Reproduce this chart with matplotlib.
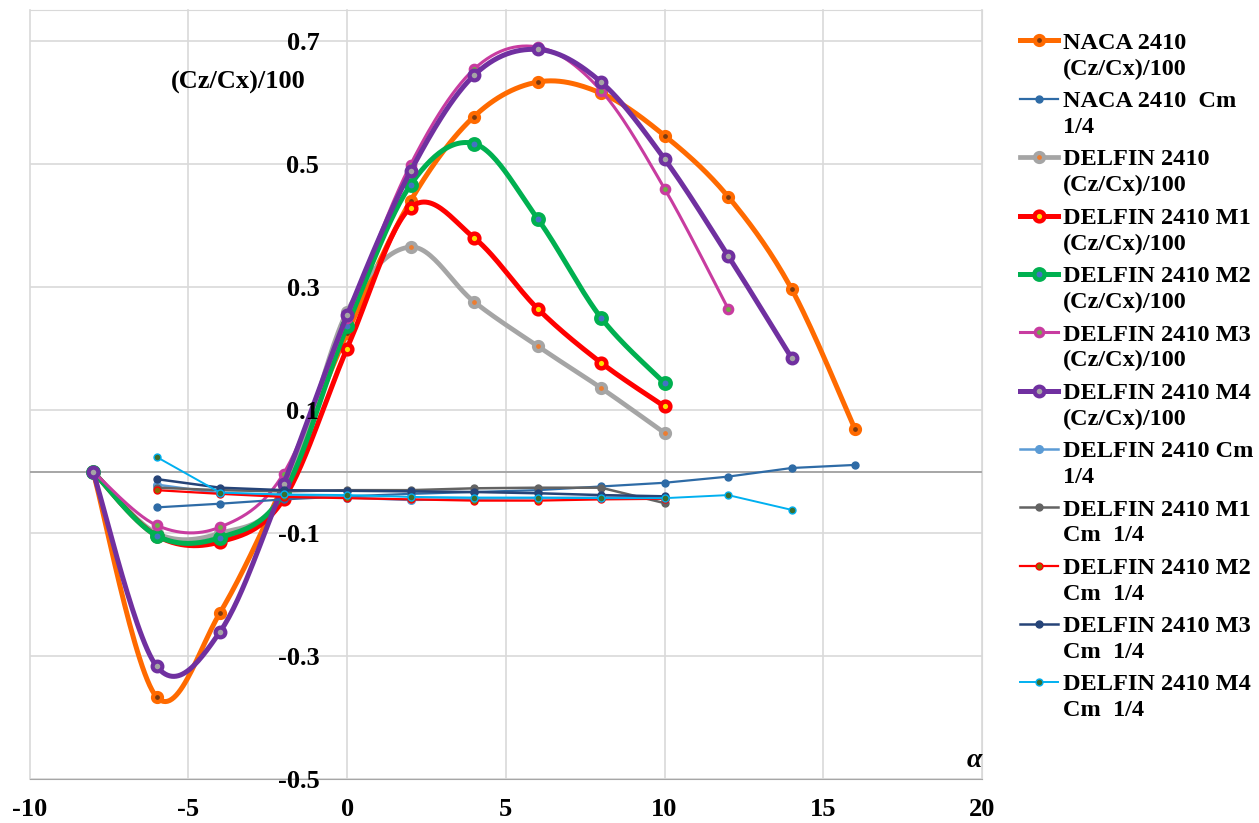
import numpy as np
import matplotlib
matplotlib.use('Agg')
import matplotlib.pyplot as plt
from matplotlib.legend_handler import HandlerLine2D

plt.rcParams['font.family'] = ['Liberation Serif', 'DejaVu Serif']
plt.rcParams['font.weight'] = 'bold'
plt.rcParams['axes.unicode_minus'] = False

# angle of attack
alpha_naca = [-8, -6, -4, -2, 0, 2, 4, 6, 8, 10, 12, 14, 16]
alpha_d = [-8, -6, -4, -2, 0, 2, 4, 6, 8, 10]
alpha_m3 = [-8, -6, -4, -2, 0, 2, 4, 6, 8, 10, 12]
alpha_m4 = [-8, -6, -4, -2, 0, 2, 4, 6, 8, 10, 12, 14]

# (Cz/Cx)/100
naca_czcx = [0, -0.366, -0.229, -0.02, 0.225, 0.44, 0.577, 0.633, 0.615, 0.546, 0.447, 0.297, 0.069]
delfin_czcx = [0, -0.10, -0.10, -0.035, 0.26, 0.365, 0.276, 0.204, 0.136, 0.063]
m1_czcx = [0, -0.104, -0.114, -0.045, 0.200, 0.429, 0.380, 0.265, 0.177, 0.106]
m2_czcx = [0, -0.104, -0.107, -0.035, 0.236, 0.466, 0.533, 0.411, 0.250, 0.144]
m3_czcx = [0, -0.087, -0.090, -0.003, 0.25, 0.499, 0.654, 0.690, 0.619, 0.460, 0.265]
m4_czcx = [0, -0.316, -0.260, -0.02, 0.254, 0.488, 0.644, 0.686, 0.633, 0.508, 0.351, 0.185]

# Cm 1/4
alpha_cm_naca = [-6, -4, -2, 0, 2, 4, 6, 8, 10, 12, 14, 16]
alpha_cm = [-6, -4, -2, 0, 2, 4, 6, 8, 10]
alpha_cm_m4 = [-6, -4, -2, 0, 2, 4, 6, 8, 10, 12, 14]
naca_cm = [-0.058, -0.052, -0.045, -0.040, -0.036, -0.033, -0.030, -0.024, -0.018, -0.008, 0.006, 0.011]
delfin_cm = [-0.021, -0.035, -0.038, -0.042, -0.046, -0.044, -0.043, -0.042, -0.042]
m1_cm = [-0.026, -0.030, -0.032, -0.030, -0.030, -0.027, -0.026, -0.026, -0.051]
m2_cm = [-0.030, -0.036, -0.041, -0.043, -0.045, -0.047, -0.047, -0.045, -0.044]
m3_cm = [-0.012, -0.026, -0.030, -0.031, -0.032, -0.033, -0.035, -0.038, -0.040]
m4_cm = [0.024, -0.034, -0.037, -0.038, -0.041, -0.042, -0.042, -0.043, -0.043, -0.038, -0.062]

x_ticks = [-10, -5, 0, 5, 10, 15, 20]
y_ticks = [-0.5, -0.3, -0.1, 0.1, 0.3, 0.5, 0.7]


def smooth(x, y, n=30):
    # excel-like smoothed line (catmull-rom bezier)
    p = np.column_stack([x, y]).astype(float)
    ext = np.vstack([p[0], p, p[-1]])
    t = np.linspace(0, 1, n)[:, None]
    out = []
    for i in range(len(p) - 1):
        p0, p1, p2, p3 = ext[i], ext[i + 1], ext[i + 2], ext[i + 3]
        c1 = p1 + (p2 - p0) / 6
        c2 = p2 - (p3 - p1) / 6
        seg = ((1 - t) ** 3) * p1 + 3 * ((1 - t) ** 2) * t * c1 + 3 * (1 - t) * t ** 2 * c2 + t ** 3 * p2
        out.append(seg if i == 0 else seg[1:])
    out = np.vstack(out)
    return out[:, 0], out[:, 1]


class TopHandler(HandlerLine2D):
    # align legend marker with first line of the label
    def create_artists(self, legend, orig_handle, xdescent, ydescent, width, height, fontsize, trans):
        arts = super().create_artists(legend, orig_handle, xdescent, ydescent, width, height, fontsize, trans)
        for a in arts:
            a.set_ydata(np.asarray(a.get_ydata(), dtype=float) + 0.62 * fontsize)
        return arts


fig = plt.figure(figsize=(12.59, 8.23), dpi=100)
ax = fig.add_axes([0.0235, 0.0529, 0.7565, 0.9349])

czcx = [
    (alpha_naca, naca_czcx, 'NACA 2410\n(Cz/Cx)/100', '#FF6A00', 3.6, 6.5, 3.0, '#7A3A10'),
    (alpha_d, delfin_czcx, 'DELFIN 2410\n(Cz/Cx)/100', '#A5A5A5', 3.4, 6.5, 3.0, '#ED7D31'),
    (alpha_d, m1_czcx, 'DELFIN 2410 M1\n(Cz/Cx)/100', '#FF0000', 3.6, 7, 3.2, '#FFE000'),
    (alpha_d, m2_czcx, 'DELFIN 2410 M2\n(Cz/Cx)/100', '#00B050', 3.6, 7.5, 3.2, '#4472C4'),
    (alpha_m3, m3_czcx, 'DELFIN 2410 M3\n(Cz/Cx)/100', '#C83CA0', 2.2, 6, 2.4, '#70AD47'),
    (alpha_m4, m4_czcx, 'DELFIN 2410 M4\n(Cz/Cx)/100', '#7030A0', 3.6, 7, 3.0, '#A5A5A5'),
]
cm = [
    (alpha_cm_naca, naca_cm, 'NACA 2410  Cm\n1/4', '#2E6BA6', 1.6, 5, 1.0, '#2E6BA6'),
    (alpha_cm, delfin_cm, 'DELFIN 2410 Cm\n1/4', '#5B9BD5', 1.8, 5.5, 1.0, '#5B9BD5'),
    (alpha_cm, m1_cm, 'DELFIN 2410 M1\nCm  1/4', '#636363', 1.8, 5, 1.0, '#636363'),
    (alpha_cm, m2_cm, 'DELFIN 2410 M2\nCm  1/4', '#FF0000', 1.6, 5, 1.0, '#8B6A00'),
    (alpha_cm, m3_cm, 'DELFIN 2410 M3\nCm  1/4', '#264478', 1.8, 5, 1.0, '#264478'),
    (alpha_cm_m4, m4_cm, 'DELFIN 2410 M4\nCm  1/4', '#00B0F0', 1.4, 5, 1.0, '#3C6E2E'),
]

handles = {}
for x, y, lab, col, lw, ms, mew, cen in czcx:
    sx, sy = smooth(x, y)
    ax.plot(sx, sy, color=col, lw=lw, solid_capstyle='round')
    ax.plot(x, y, ls='none', marker='o', ms=ms, mew=mew, mec=col, mfc=cen)
    handles[lab] = plt.Line2D([], [], color=col, lw=lw, marker='o', ms=ms, mew=mew, mec=col, mfc=cen)
for x, y, lab, col, lw, ms, mew, cen in cm:
    ax.plot(x, y, color=col, lw=lw, marker='o', ms=ms, mew=mew, mec=col, mfc=cen)
    handles[lab] = plt.Line2D([], [], color=col, lw=lw, marker='o', ms=ms, mew=mew, mec=col, mfc=cen)

order = ['NACA 2410\n(Cz/Cx)/100', 'NACA 2410  Cm\n1/4', 'DELFIN 2410\n(Cz/Cx)/100',
         'DELFIN 2410 M1\n(Cz/Cx)/100', 'DELFIN 2410 M2\n(Cz/Cx)/100', 'DELFIN 2410 M3\n(Cz/Cx)/100',
         'DELFIN 2410 M4\n(Cz/Cx)/100', 'DELFIN 2410 Cm\n1/4', 'DELFIN 2410 M1\nCm  1/4',
         'DELFIN 2410 M2\nCm  1/4', 'DELFIN 2410 M3\nCm  1/4', 'DELFIN 2410 M4\nCm  1/4']

ax.set_xlim(-10, 20)
ax.set_ylim(-0.5, 0.75)
ax.set_xticks(x_ticks)
ax.set_yticks(y_ticks)
ax.set_yticklabels([str(v) for v in y_ticks])

# grid drawn by hand so tick labels sit above the curves
for gx in x_ticks:
    ax.axvline(gx, color='#D9D9D9', lw=1.2, zorder=0, clip_on=False)
for gy in y_ticks:
    ax.axhline(gy, color='#D9D9D9', lw=1.2, zorder=0)
ax.axhline(0, color='#A6A6A6', lw=1.4, zorder=1)
ax.set_axisbelow(False)

ax.spines['left'].set_position(('data', 0))
ax.spines['left'].set_visible(False)
for s in ['top', 'right']:
    ax.spines[s].set_color('#D9D9D9')
ax.spines['bottom'].set_color('#A6A6A6')
ax.tick_params(axis='both', length=0, labelsize=19)
ax.tick_params(axis='y', pad=20)
ax.tick_params(axis='x', pad=13)

ax.text(-1.3, 0.632, '(Cz/Cx)/100', fontsize=19, ha='right', va='center')
ax.text(20.0, -0.49, 'α', fontsize=20, style='italic', ha='right', va='bottom')

leg = fig.legend([handles[k] for k in order], order, loc='upper left',
                 bbox_to_anchor=(0.793, 0.987), frameon=False, fontsize=17.5,
                 handlelength=1.55, handletextpad=0.2, labelspacing=0.47,
                 handler_map={plt.Line2D: TopHandler()})
for t in leg.get_texts():
    t.set_linespacing(1.3)

fig.savefig('out.png', dpi=100)
